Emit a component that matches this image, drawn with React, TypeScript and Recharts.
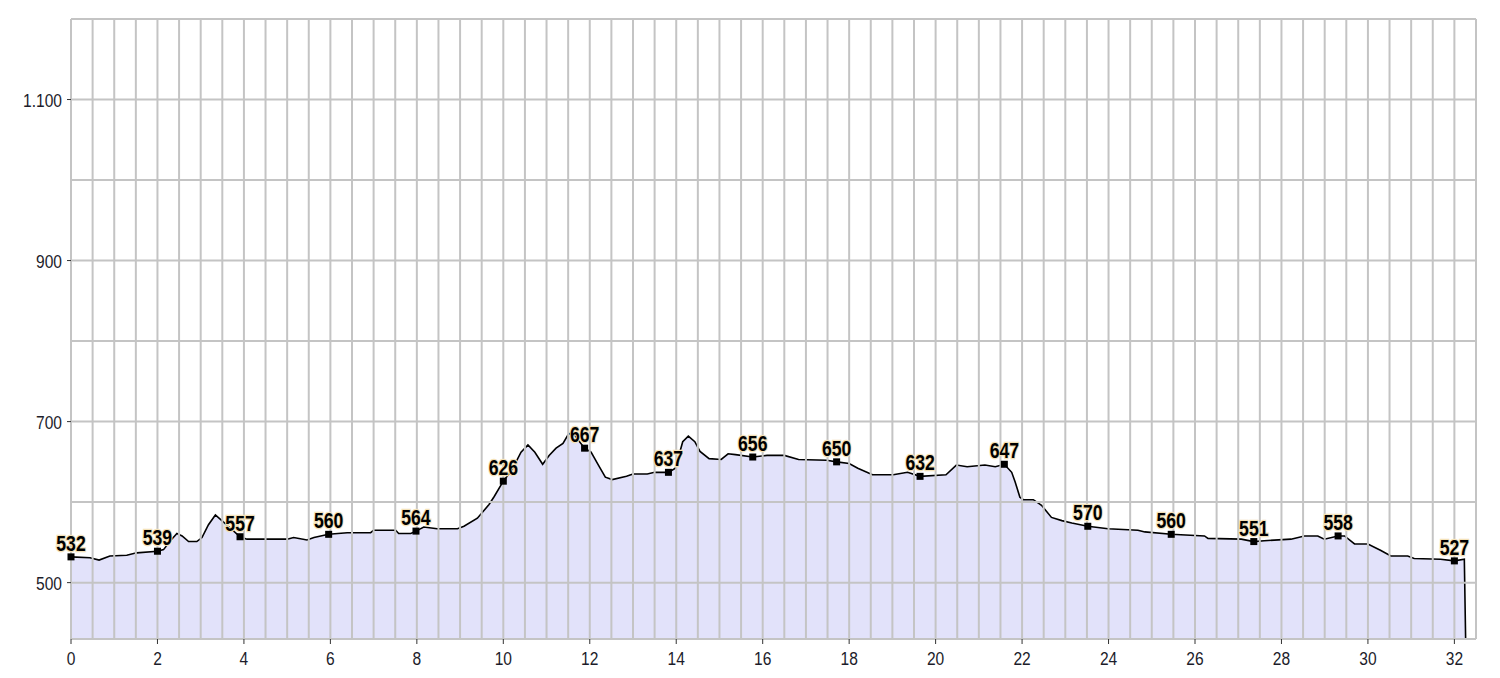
import React from "react";
import {
  ComposedChart,
  Area,
  Scatter,
  XAxis,
  YAxis,
  ReferenceLine,
} from "recharts";

// elevation profile (km, m)
const profileKm = [
  0, 0.44, 0.65, 0.9, 1.29, 1.52, 2.0, 2.14, 2.33, 2.45, 2.57, 2.72, 2.91, 3.03, 3.18, 3.34, 3.49, 3.68,
  3.91, 4.07, 5.0, 5.15, 5.46, 5.62, 5.96, 6.39, 6.93, 7.0, 7.51, 7.58, 7.86, 7.98, 8.16, 8.47, 8.94,
  9.09, 9.4, 9.67, 9.79, 10.0, 10.2, 10.41, 10.57, 10.73, 10.91, 11.06, 11.22, 11.38, 11.5, 11.6, 11.75,
  11.88, 12.03, 12.2, 12.36, 12.52, 12.85, 13.0, 13.33, 13.5, 13.82, 13.98, 14.15, 14.28, 14.43, 14.55,
  14.76, 15.04, 15.2, 15.37, 15.77, 16.1, 16.5, 16.83, 17.48, 17.71, 18.0, 18.2, 18.54, 19.02, 19.35,
  19.64, 20.24, 20.48, 20.73, 21.14, 21.38, 21.59, 21.76, 21.84, 21.95, 22.03, 22.26, 22.45, 22.68,
  22.92, 23.15, 23.52, 23.99, 24.68, 24.84, 25.45, 26.22, 26.3, 27.07, 27.36, 27.6, 28.22, 28.53, 28.84,
  28.99, 29.31, 29.46, 29.69, 30.0, 30.3, 30.53, 30.92, 31.07, 31.68, 32.0, 32.23, 32.26,
];
const profileElev = [
  532, 531, 528, 533, 534, 537, 539, 541, 554, 561, 558, 551, 551, 556, 572, 584, 577, 568,
  557, 554, 554, 556, 553, 556, 560, 562, 562, 565, 565, 561, 561, 564, 569, 567, 567,
  570, 580, 597, 607, 626, 640, 662, 671, 662, 647, 658, 667, 673, 684, 687, 676,
  667, 662, 646, 631, 628, 632, 635, 635, 637, 637, 642, 675, 682, 675, 663,
  654, 653, 660, 659, 656, 658, 658, 653, 652, 650, 648, 642, 634, 634, 637,
  632, 634, 646, 644, 646, 644, 647, 637, 625, 606, 603, 603, 596, 581,
  577, 574, 570, 567, 565, 563, 560, 558, 555, 554, 551, 552, 554, 558, 558,
  554, 558, 558, 548, 548, 540, 533, 533, 530, 529, 527, 529, 430,
];

// labelled markers
const markerKm = [0, 2.0, 3.91, 5.96, 7.98, 10.0, 11.88, 13.82, 15.77, 17.71, 19.64, 21.59, 23.52, 25.45, 27.36, 29.31, 32.0];
const markerElev = [532, 539, 557, 560, 564, 626, 667, 637, 656, 650, 632, 647, 570, 560, 551, 558, 527];

const xTicks = [0, 2, 4, 6, 8, 10, 12, 14, 16, 18, 20, 22, 24, 26, 28, 30, 32];
const yTicks = [500, 700, 900, 1100];
const gridY = [500, 600, 700, 800, 900, 1000, 1100, 1200];
const gridX = Array.from({ length: 66 }, (_, i) => i * 0.5);

const profile = profileKm.map((km, i) => ({ km, elev: profileElev[i] }));
const markers = markerKm.map((km, i) => ({ km, elev: markerElev[i] }));

const FONT = "'Liberation Sans', Arial, sans-serif";
const SQUEEZE = 0.82;

const fmt = (v: number) => String(v).replace(/\B(?=(\d{3})+(?!\d))/g, ".");

const XTick = (props: any) => {
  const { x, y, payload } = props;
  return (
    <g transform={`translate(${x},${y})`}>
      <text transform={`scale(${SQUEEZE},1)`} x={0} y={0} dy={15} textAnchor="middle"
        fontFamily={FONT} fontSize={19} fill="#1c1c2a">
        {payload.value}
      </text>
    </g>
  );
};

const YTick = (props: any) => {
  const { x, y, payload } = props;
  return (
    <g transform={`translate(${x},${y})`}>
      <text transform={`scale(${SQUEEZE},1)`} x={0} y={0} dy={7} textAnchor="end"
        fontFamily={FONT} fontSize={19} fill="#1c1c2a">
        {fmt(payload.value)}
      </text>
    </g>
  );
};

const Marker = (props: any) => {
  const { cx, cy, payload } = props;
  return (
    <g>
      <rect x={cx - 3.5} y={cy - 3.5} width={7} height={7} fill="#000" />
      <g transform={`translate(${cx},${cy - 6})`}>
        <text
          transform="scale(0.8,1)"
          x={0}
          y={0}
          textAnchor="middle"
          fontFamily={FONT}
          fontSize={22}
          fontWeight="bold"
          fill="#000"
          stroke="#f4e2b8"
          strokeWidth={2.5}
          paintOrder="stroke"
        >
          {payload.elev}
        </text>
      </g>
    </g>
  );
};

export default function App() {
  return (
    <div style={{ width: 1484, height: 668, background: "#fff" }}>
      <ComposedChart
        width={1484}
        height={668}
        data={profile}
        margin={{ top: 11, right: 16, bottom: 7, left: 8 }}
      >
        <XAxis
          dataKey="km"
          type="number"
          domain={[0, 32.5]}
          ticks={xTicks}
          interval={0}
          height={30}
          tickSize={5}
          tickMargin={6}
          axisLine={{ stroke: "#c4c4c4", strokeWidth: 2 }}
          tickLine={{ stroke: "#333" }}
          tick={<XTick />}
        />
        <YAxis
          type="number"
          domain={[430, 1200]}
          ticks={yTicks}
          width={55}
          tickSize={4}
          tickMargin={5}
          axisLine={false}
          tickLine={{ stroke: "#333" }}
          tick={<YTick />}
        />
        {gridY.map((v) => (
          <ReferenceLine key={"y" + v} y={v} stroke="#c4c4c4" strokeWidth={2} ifOverflow="extendDomain" />
        ))}
        {gridX.map((v) => (
          <ReferenceLine key={"x" + v} x={v} stroke="#c4c4c4" strokeWidth={2} />
        ))}
        <Area
          type="linear"
          dataKey="elev"
          stroke="#000"
          strokeWidth={1.6}
          fill="#d2d2f7"
          fillOpacity={0.65}
          baseValue={430}
          isAnimationActive={false}
          dot={false}
          activeDot={false}
        />
        <Scatter data={markers} dataKey="elev" shape={<Marker />} isAnimationActive={false} />
      </ComposedChart>
    </div>
  );
}
